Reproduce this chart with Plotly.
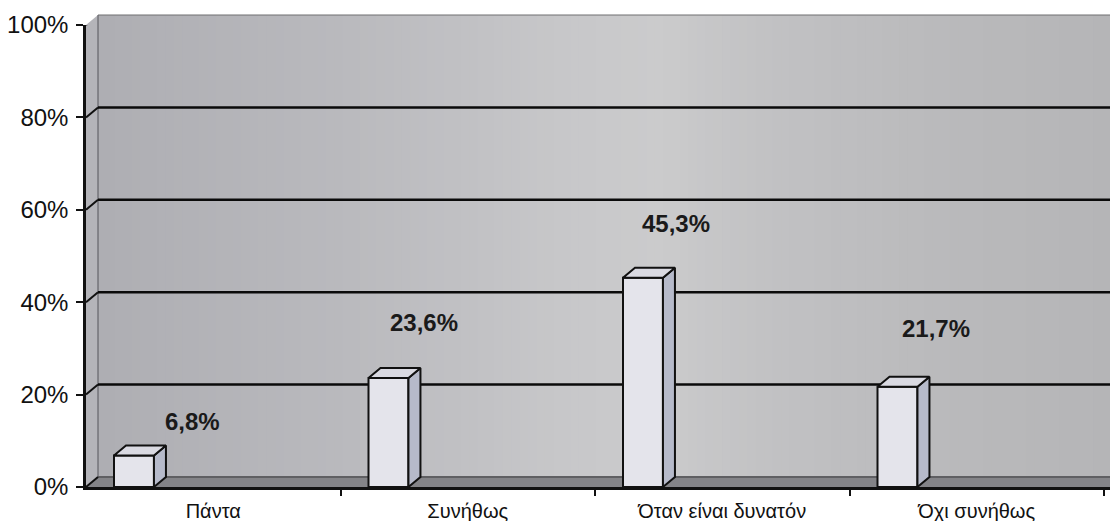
import plotly.graph_objects as go

# Survey answers and their shares (%)
categories = ["Πάντα", "Συνήθως", "Όταν είναι δυνατόν", "Όχι συνήθως"]
shares = [6.8, 23.6, 45.3, 21.7]
y_ticks = [0, 20, 40, 60, 80, 100]
y_tick_text = ["0%", "20%", "40%", "60%", "80%", "100%"]

# ---- geometry of the pseudo-3D frame ----
W, H = 1110, 521
ML, MR, MT, MB = 86, 0, 25, 34
plot_w = W - ML - MR
plot_h = H - MT - MB
cat_px = 254.5                      # pixels per category slot
x_lo = -0.5
x_hi = x_lo + plot_w / cat_px

depth_x_px, depth_y_px = 12, 10     # 3D depth offset in pixels
DX = depth_x_px / cat_px            # same offset in x data units
DY = depth_y_px / plot_h * 100      # same offset in y data units
fx = depth_x_px / plot_w            # in paper fractions
fy = depth_y_px / plot_h

bar_offset, bar_width = -0.39, 0.157
label_dx = [-0.08, -0.17, -0.18, -0.16]
label_dy = [7.3, 12.1, 11.8, 12.7]

FONT = "Arial, Liberation Sans, sans-serif"
INK = "#111111"

shapes = []

# back wall: horizontal gray gradient made of thin strips
stops = [(0.0, (174, 174, 179)), (0.25, (186, 186, 190)), (0.47, (200, 200, 202)),
         (0.55, (203, 203, 204)), (0.65, (194, 194, 196)), (0.82, (186, 186, 188)),
         (1.0, (181, 181, 183))]


def grad(t):
    for (t0, c0), (t1, c1) in zip(stops[:-1], stops[1:]):
        if t0 <= t <= t1:
            k = (t - t0) / (t1 - t0)
            return "rgb(%d,%d,%d)" % tuple(round(a + (b - a) * k) for a, b in zip(c0, c1))
    return "rgb(%d,%d,%d)" % stops[-1][1]


N = 120
for i in range(N):
    x0 = fx + (1 - fx) * i / N
    x1 = fx + (1 - fx) * (i + 1) / N + 0.001
    shapes.append(dict(type="rect", xref="paper", yref="paper", x0=x0, x1=min(x1, 1.0),
                       y0=fy, y1=1 + fy, fillcolor=grad(i / N), line=dict(width=0),
                       layer="below"))

# left side wall
shapes.append(dict(type="path", xref="paper", yref="paper",
                   path=f"M 0 0 L {fx} {fy} L {fx} {1 + fy} L 0 1 Z",
                   fillcolor="rgb(180,180,185)", line=dict(width=0), layer="below"))

# floor
shapes.append(dict(type="path", xref="paper", yref="paper",
                   path=f"M 0 0 L {fx} {fy} L 1 {fy} L 1 0 Z",
                   fillcolor="rgb(132,132,136)", line=dict(width=0), layer="below"))
shapes.append(dict(type="line", xref="paper", yref="paper", x0=fx, x1=1, y0=fy, y1=fy,
                   line=dict(color="rgb(95,95,98)", width=2), layer="below"))

# back wall left edge and top edge
shapes.append(dict(type="line", xref="paper", yref="paper", x0=fx, x1=fx, y0=fy, y1=1 + fy,
                   line=dict(color="rgb(85,85,90)", width=1), layer="below"))
shapes.append(dict(type="line", xref="paper", yref="paper", x0=fx, x1=1, y0=1 + fy, y1=1 + fy,
                   line=dict(color="rgb(110,110,112)", width=1), layer="below"))

# gridlines on the back wall plus their short diagonals on the side wall
for v in y_ticks:
    if 0 < v < 100:
        shapes.append(dict(type="line", xref="paper", yref="y", x0=fx, x1=1,
                           y0=v + DY, y1=v + DY, line=dict(color="#0a0a0a", width=2.5),
                           layer="below"))
    shapes.append(dict(type="line", xref="paper", yref="y", x0=0, x1=fx,
                       y0=v, y1=v + DY, line=dict(color=INK, width=2), layer="below"))

fig = go.Figure()

# front faces of the columns
fig.add_trace(go.Bar(
    x=list(range(len(categories))), y=shares, width=bar_width, offset=bar_offset,
    marker=dict(color="rgb(228,228,235)", line=dict(color=INK, width=2)),
    hoverinfo="skip", showlegend=False,
))

# side and top faces of the columns
for i, v in enumerate(shares):
    xl = i + bar_offset
    xr = xl + bar_width
    fig.add_trace(go.Scatter(
        x=[xr, xr + DX, xr + DX, xr, xr], y=[0, DY, v + DY, v, 0],
        mode="lines", fill="toself", fillcolor="rgb(182,186,202)",
        line=dict(color=INK, width=2), hoverinfo="skip", showlegend=False,
    ))
    fig.add_trace(go.Scatter(
        x=[xl, xl + DX, xr + DX, xr, xl], y=[v, v + DY, v + DY, v, v],
        mode="lines", fill="toself", fillcolor="rgb(218,218,226)",
        line=dict(color=INK, width=2), hoverinfo="skip", showlegend=False,
    ))

annotations = []
for i, v in enumerate(shares):
    annotations.append(dict(
        x=i + label_dx[i], y=v + label_dy[i], xref="x", yref="y",
        text=f"{v:.1f}".replace(".", ",") + "%", showarrow=False,
        font=dict(family=FONT, size=24, color="#1a1a1a", weight="bold"),
    ))

fig.update_layout(
    width=W, height=H,
    margin=dict(l=ML, r=MR, t=MT, b=MB, pad=0),
    paper_bgcolor="white", plot_bgcolor="white",
    shapes=shapes, annotations=annotations,
    showlegend=False,
    xaxis=dict(
        range=[x_lo, x_hi], tickmode="array", tickvals=list(range(len(categories))),
        ticktext=categories, ticks="", showgrid=False, zeroline=False,
        showline=True, linecolor=INK, linewidth=2.5,
        tickfont=dict(family=FONT, size=20, color=INK), ticklabelstandoff=4,
        minor=dict(tickmode="array", tickvals=[0.5, 1.5, 2.5, 3.5], ticks="outside",
                   ticklen=6, tickwidth=2, tickcolor=INK, showgrid=False),
        fixedrange=True,
    ),
    yaxis=dict(
        range=[0, 100], tickmode="array", tickvals=y_ticks, ticktext=y_tick_text,
        ticks="outside", ticklen=7, tickwidth=2, tickcolor=INK,
        showgrid=False, zeroline=False, showline=True, linecolor=INK, linewidth=2.5,
        tickfont=dict(family=FONT, size=24, color=INK), ticklabelstandoff=3,
        fixedrange=True,
    ),
)

fig.write_html("out.html", config={"displayModeBar": False})
